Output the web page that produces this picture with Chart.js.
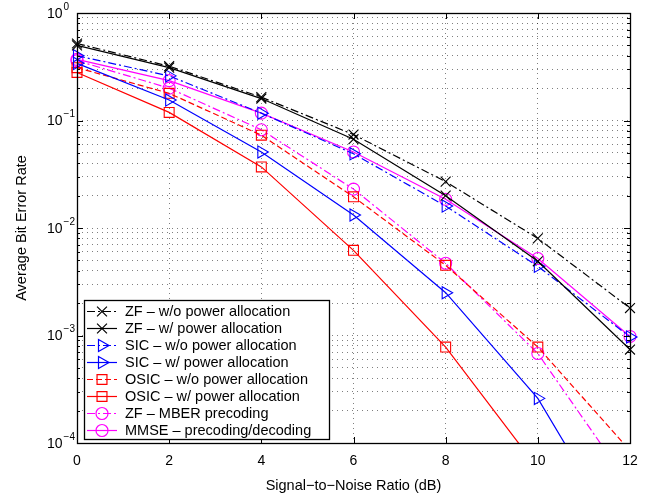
<!DOCTYPE html>
<html><head><meta charset="utf-8">
<script src="https://cdn.jsdelivr.net/npm/chart.js@4/dist/chart.umd.min.js"></script>
<style>html,body{margin:0;padding:0;background:#fff;}#wrap{width:657px;height:497px;}</style>
</head><body><div id="wrap"><canvas id="c" width="657" height="497"></canvas></div>
<script>
// ---------- data ----------
const snr = [0, 2, 4, 6, 8, 10, 12];
const xTicks = [0, 2, 4, 6, 8, 10, 12];
const yDecades = [-4, -3, -2, -1, 0];
const seriesLabels = [
  'ZF \u2013 w/o power allocation',
  'ZF \u2013 w/ power allocation',
  'SIC \u2013 w/o power allocation',
  'SIC \u2013 w/ power allocation',
  'OSIC \u2013 w/o power allocation',
  'OSIC \u2013 w/ power allocation',
  'ZF \u2013 MBER precoding',
  'MMSE \u2013 precoding/decoding'
];
const zfWo    = [0.52, 0.32, 0.165, 0.074, 0.027, 0.0080, 0.0018];
const zfW     = [0.50, 0.31, 0.160, 0.067, 0.020, 0.0049, 0.00074];
const sicWo   = [0.40, 0.26, 0.117, 0.049, 0.016, 0.0044, 0.00097];
const sicW    = [0.34, 0.155, 0.051, 0.0132, 0.0025, 0.00026, 0.0000095];
const osicWo  = [0.31, 0.179, 0.073, 0.0195, 0.0045, 0.00078, 0.000085];
const osicW   = [0.28, 0.119, 0.037, 0.0062, 0.00078, 0.000058, 0.000002];
const zfMber  = [0.36, 0.200, 0.082, 0.023, 0.0047, 0.00068, 0.00004];
const mmse    = [0.37, 0.235, 0.117, 0.051, 0.0185, 0.0052, 0.00098];

// ---------- styles ----------
const DASHDOT = [8, 3, 2, 3];
const DASHED = [6, 3];
const FONT = '"Liberation Sans", Arial, Helvetica, sans-serif';
const seriesValues = [zfWo, zfW, sicWo, sicW, osicWo, osicW, zfMber, mmse];
const seriesStyle = [
  {color: '#000000', dash: DASHDOT, pt: 'crossRot', r: 7, rot: 0},
  {color: '#000000', dash: [],      pt: 'crossRot', r: 7, rot: 0},
  {color: '#0000ff', dash: DASHDOT, pt: 'triangle', r: 7, rot: 90},
  {color: '#0000ff', dash: [],      pt: 'triangle', r: 7, rot: 90},
  {color: '#ff0000', dash: DASHED,  pt: 'rect',     r: 7, rot: 0},
  {color: '#ff0000', dash: [],      pt: 'rect',     r: 7, rot: 0},
  {color: '#ff00ff', dash: DASHDOT, pt: 'circle',   r: 6, rot: 0},
  {color: '#ff00ff', dash: [],      pt: 'circle',   r: 6, rot: 0}
];

const datasets = seriesLabels.map((lab, k) => {
  const s = seriesStyle[k];
  return {
    label: lab,
    data: snr.map((x, i) => ({x: x, y: seriesValues[k][i]})),
    borderColor: s.color,
    backgroundColor: 'rgba(0,0,0,0)',
    borderWidth: 1.2,
    borderDash: s.dash,
    pointStyle: s.pt,
    pointRadius: s.r,
    pointHoverRadius: s.r,
    pointRotation: s.rot,
    pointBorderColor: s.color,
    pointBackgroundColor: 'rgba(0,0,0,0)',
    pointBorderWidth: 1.1,
    tension: 0,
    fill: false,
    clip: {left: 12, right: 12, top: 12, bottom: 0}
  };
});

const decorPlugin = {
  id: 'decor',
  beforeDraw(chart) {
    const ctx = chart.ctx;
    ctx.save();
    ctx.fillStyle = '#fff';
    ctx.fillRect(0, 0, chart.width, chart.height);
    ctx.restore();
  },
  afterDraw(chart) {
    const ctx = chart.ctx;
    const a = chart.chartArea;
    const xs = chart.scales.x, ys = chart.scales.y;
    ctx.save();
    ctx.setLineDash([]);
    ctx.strokeStyle = '#000';
    ctx.lineWidth = 1;
    // tick marks (inward, both sides)
    ctx.beginPath();
    xTicks.forEach(v => {
      const px = Math.round(xs.getPixelForValue(v)) + 0.5;
      ctx.moveTo(px, a.bottom); ctx.lineTo(px, a.bottom - 6);
      ctx.moveTo(px, a.top); ctx.lineTo(px, a.top + 6);
    });
    ys.ticks.forEach(t => {
      const py = Math.round(ys.getPixelForValue(t.value)) + 0.5;
      const major = Math.abs(Math.log10(t.value) - Math.round(Math.log10(t.value))) < 1e-9;
      const L = major ? 6 : 3;
      ctx.moveTo(a.left, py); ctx.lineTo(a.left + L, py);
      ctx.moveTo(a.right, py); ctx.lineTo(a.right - L, py);
    });
    ctx.stroke();
    // frame
    ctx.lineWidth = 1.3;
    ctx.strokeRect(Math.round(a.left) + 0.5, Math.round(a.top) + 0.5,
                   Math.round(a.right - a.left), Math.round(a.bottom - a.top));
    // y tick labels 10^e
    ctx.fillStyle = '#000';
    ctx.textBaseline = 'middle';
    ctx.textAlign = 'left';
    yDecades.forEach(e => {
      const py = ys.getPixelForValue(Math.pow(10, e));
      ctx.font = '14px ' + FONT;
      ctx.fillText('10', 47, py + 1);
      const w = ctx.measureText('10').width;
      ctx.font = '10px ' + FONT;
      ctx.fillText(e < 0 ? '\u2212' + (-e) : String(e), 47 + w + 1, py - 6);
    });
    // axis titles
    ctx.font = '14.5px ' + FONT;
    ctx.textAlign = 'center';
    ctx.fillText('Signal\u2212to\u2212Noise Ratio (dB)', (a.left + a.right) / 2, 486);
    ctx.save();
    ctx.translate(22, (a.top + a.bottom) / 2);
    ctx.rotate(-Math.PI / 2);
    ctx.fillText('Average Bit Error Rate', 0, 0);
    ctx.restore();
    // legend
    const bx = 84, by = 300, bw = 245, bh = 139;
    ctx.fillStyle = '#fff';
    ctx.fillRect(bx, by, bw, bh);
    ctx.lineWidth = 1.3;
    ctx.strokeStyle = '#000';
    ctx.strokeRect(bx + 0.5, by + 0.5, bw, bh);
    chart.data.datasets.forEach((ds, i) => {
      const ry = by + 10.7 + i * 17.05;
      ctx.lineWidth = 1.2;
      ctx.strokeStyle = ds.borderColor;
      ctx.setLineDash(ds.borderDash || []);
      ctx.beginPath();
      ctx.moveTo(87, Math.round(ry) + 0.5);
      ctx.lineTo(117, Math.round(ry) + 0.5);
      ctx.stroke();
      ctx.setLineDash([]);
      ctx.fillStyle = 'rgba(0,0,0,0)';
      if (Chart.helpers && Chart.helpers.drawPoint) {
        Chart.helpers.drawPoint(ctx, {pointStyle: ds.pointStyle, radius: ds.pointRadius,
          rotation: ds.pointRotation, borderWidth: 1.1}, 102, Math.round(ry) + 0.5);
      }
      ctx.fillStyle = '#000';
      ctx.font = '14.5px ' + FONT;
      ctx.textAlign = 'left';
      ctx.textBaseline = 'middle';
      ctx.fillText(ds.label, 125, ry + 1);
    });
    ctx.restore();
  }
};

new Chart(document.getElementById('c'), {
  type: 'line',
  data: {datasets: datasets},
  options: {
    responsive: false,
    animation: false,
    devicePixelRatio: 1,
    layout: {padding: {top: 13, right: 27, left: 0, bottom: 0}},
    plugins: {legend: {display: false}, tooltip: {enabled: false}, title: {display: false}},
    scales: {
      x: {
        type: 'linear', min: 0, max: 12,
        afterBuildTicks: s => { s.ticks = xTicks.map(v => ({value: v})); },
        afterFit: s => { s.height = 54; },
        ticks: {font: {size: 14, family: FONT}, color: '#000', padding: 10, maxRotation: 0, autoSkip: false},
        grid: {color: 'rgba(0,0,0,0.5)', lineWidth: 1, drawTicks: false},
        border: {display: false, dash: [1, 4]}
      },
      y: {
        type: 'logarithmic', min: 1e-4, max: 1,
        afterBuildTicks: s => {
          const t = [];
          yDecades.forEach(e => {
            const base = Math.pow(10, e);
            if (e === 0) { t.push({value: 1}); return; }
            for (let m = 1; m <= 9; m++) t.push({value: m * base});
          });
          s.ticks = t;
        },
        afterFit: s => { s.width = 77; },
        ticks: {display: false, autoSkip: false},
        grid: {color: 'rgba(0,0,0,0.5)', lineWidth: 1, drawTicks: false},
        border: {display: false, dash: [1, 4]}
      }
    }
  },
  plugins: [decorPlugin]
});
</script>
</body></html>
